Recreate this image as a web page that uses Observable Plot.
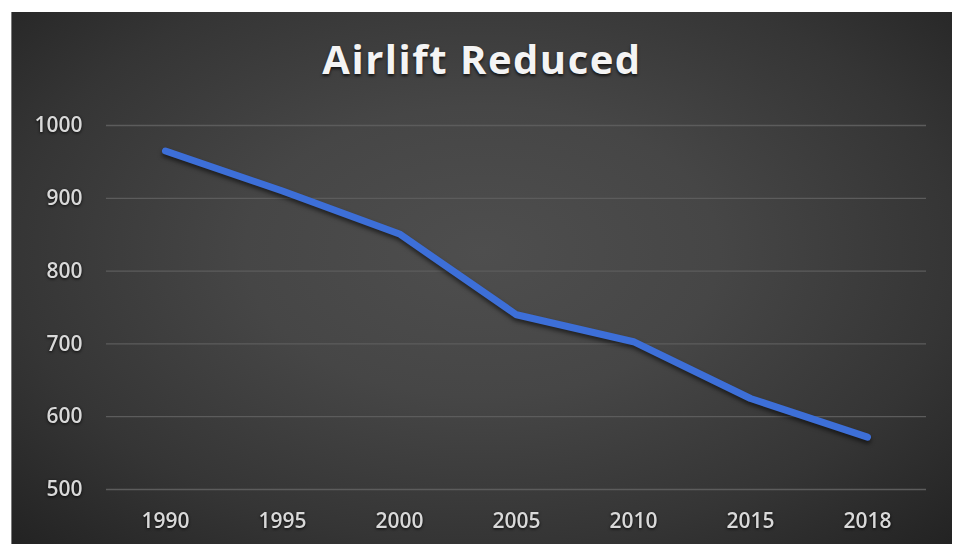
<!DOCTYPE html>
<html>
<head>
<meta charset="utf-8">
<script src="https://cdn.jsdelivr.net/npm/d3@7"></script>
<script src="https://cdn.jsdelivr.net/npm/@observablehq/plot@0.6"></script>
<style>
  html, body { margin: 0; padding: 0; background: #ffffff; }
  body { width: 956px; height: 544px; position: relative; overflow: hidden; }
  #chart {
    position: absolute; left: 11px; top: 12px; width: 941px; height: 532px;
    background: radial-gradient(ellipse 72% 78% at 50% 45%, #4e4e4e 0%, #464646 35%, #353535 70%, #222222 100%);
    border-left: 1px solid #7a7a7a;
    box-sizing: border-box;
    font-family: "Open Sans", sans-serif;
  }
  #title {
    height: 88px; box-sizing: border-box; padding-top: 22px;
    text-align: center; color: #f4f4f4; font-weight: 700; font-size: 40px;
    letter-spacing: 1.5px; line-height: 50px;
    text-shadow: 0 2px 3px rgba(0,0,0,0.7);
  }
  #chart svg { display: block; overflow: visible; }
  .series { filter: drop-shadow(0px 3px 2px rgba(0,0,0,0.55)); }
  .tick-labels text { filter: drop-shadow(0px 1px 1.5px rgba(0,0,0,0.8)); }
</style>
</head>
<body>
<div id="chart">
  <div id="title">Airlift Reduced</div>
</div>
<script>
// Years shown on the category axis and the airlift totals for each
const years = ["1990", "1995", "2000", "2005", "2010", "2015", "2018"];
const airlift = [965, 910, 851, 740, 703, 625, 572];
const yTicks = [500, 600, 700, 800, 900, 1000];

const rows = years.map((year, i) => ({year, value: airlift[i]}));

const plot = Plot.plot({
  width: 940,
  height: 444,
  marginTop: 25,
  marginBottom: 55,
  marginLeft: 94,
  marginRight: 26,
  style: {background: "transparent", color: "#d9d9d9", fontFamily: "Open Sans, sans-serif", fontSize: "21px", fontWeight: 600},
  x: {type: "point", domain: years, padding: 0.5, label: null},
  y: {domain: [500, 1000], label: null},
  marks: [
    Plot.ruleY(yTicks, {stroke: "#5c5c5c", strokeWidth: 1.3}),
    Plot.axisX({tickSize: 0, tickPadding: 24, fontSize: 21, className: "tick-labels"}),
    Plot.axisY(yTicks, {tickSize: 0, tickPadding: 24, fontSize: 21, tickFormat: (d) => String(d), className: "tick-labels"}),
    Plot.line(rows, {x: "year", y: "value", stroke: "#3d6fd8", strokeWidth: 7, strokeLinecap: "round", strokeLinejoin: "round", className: "series"})
  ]
});

document.getElementById("chart").appendChild(plot);
</script>
</body>
</html>
